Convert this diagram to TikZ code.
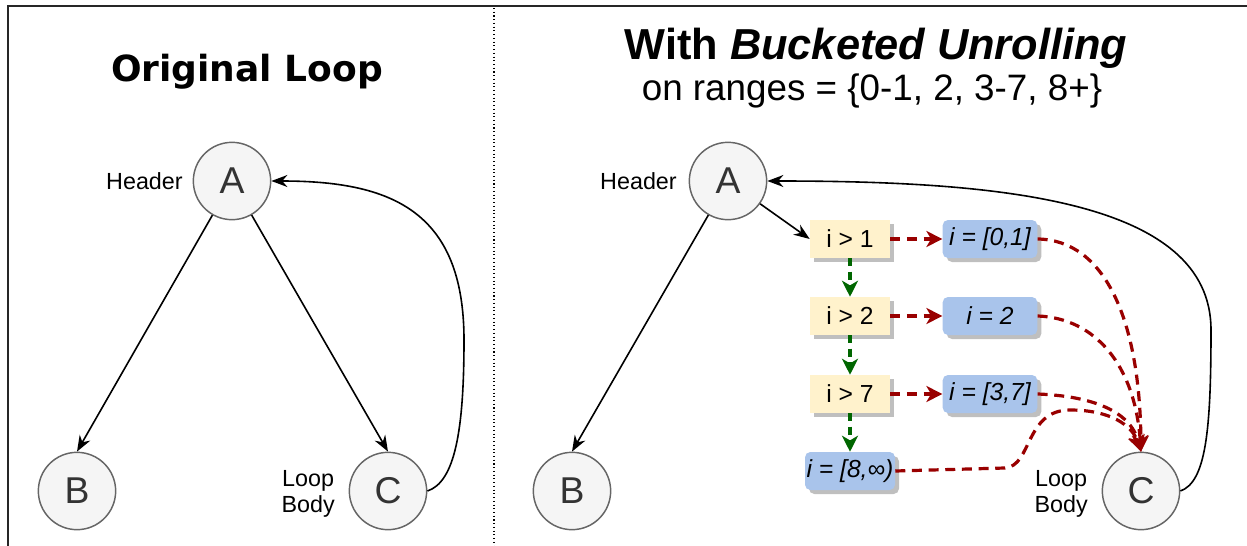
\documentclass[tikz,border=0pt]{standalone}
\usepackage{fontspec}
\setmainfont{Liberation Sans}
\newfontfamily\dejavu{DejaVu Sans}
\usepackage{tikz}
\usetikzlibrary{arrows.meta}
\usetikzlibrary{shadows}

\definecolor{nodefill}{HTML}{F5F5F5}
\definecolor{nodeline}{HTML}{666666}
\definecolor{nodetext}{HTML}{333333}
\definecolor{guardfill}{HTML}{FFF2CC}
\definecolor{bucketfill}{HTML}{A9C4EB}
\definecolor{takenred}{HTML}{990000}
\definecolor{fallgreen}{HTML}{006600}

\begin{document}
\begin{tikzpicture}[x=0.75pt,y=-0.75pt,
  vertex/.style={circle,draw=nodeline,fill=nodefill,line width=1.1pt,
    minimum size=58pt,inner sep=0pt,text=nodetext,
    font=\fontsize{28}{30}\selectfont},
  lbl/.style={inner sep=0pt,align=center,font=\fontsize{17.5}{20}\selectfont},
  guard/.style={rectangle,fill=guardfill,minimum width=60pt,minimum height=28.5pt,
    inner sep=0pt,font=\fontsize{18.5}{20}\selectfont,
    drop shadow={shadow xshift=3pt,shadow yshift=-3pt,fill=black!25,opacity=1}},
  bucket/.style={rectangle,rounded corners=4pt,fill=bucketfill,minimum width=71pt,
    minimum height=28.5pt,inner sep=0pt,font=\fontsize{18.5}{20}\selectfont\itshape,
    drop shadow={shadow xshift=3pt,shadow yshift=-3pt,fill=black!25,opacity=1}},
  edge/.style={line width=1.2pt,-{Stealth[length=12pt,width=9pt]}},
  taken/.style={draw=takenred,line width=2.4pt,dash pattern=on 7.5pt off 5pt,
    -{Stealth[length=12pt,width=12pt,inset=3.5pt]}},
  fall/.style={draw=fallgreen,line width=2.4pt,dash pattern=on 6pt off 4pt,
    -{Stealth[length=12pt,width=12pt,inset=3.5pt]}}]
  \useasboundingbox (0,0) rectangle (1247,546);
  % frame and divider
  \draw[line width=1.6pt,draw=black!85]
    (8,546)
    --
    (8,6)
    --
    (1247,6);
  \draw[dotted,line width=0.8pt]
    (494,8)
    --
    (494,546);
  % original loop
  \node [font=\dejavu\bfseries\fontsize{27}{30}\selectfont] (t1) at (247,72) {Original Loop};
  \node [vertex] (A1) at (232,181) {A};
  \node [vertex] (B1) at (77,491) {B};
  \node [vertex] (C1) at (388,491) {C};
  \node [lbl,anchor=east] (h1) at (183,181) {Header};
  \node [lbl,anchor=east] (l1) at (335,494) {Loop\\Body};
  \draw[edge]
    (A1)
    --
    (B1.north);
  \draw[edge]
    (A1)
    --
    (C1.north);
  \draw[edge]
    (C1.east)
    .. controls (455,482) and (464,430) .. (464,340)
    .. controls (464,210) and (390,181) .. (A1.east);
  % bucketed unrolling
  \node [font=\bfseries\fontsize{32.5}{34}\selectfont] (t2) at (876,48) {With \textit{Bucketed Unrolling}};
  \node [font=\fontsize{27.6}{30}\selectfont] (t3) at (872,91) {on ranges = \{0-1, 2, 3-7, 8+\}};
  \node [vertex] (A2) at (728,181) {A};
  \node [vertex] (B2) at (572,491) {B};
  \node [vertex] (C2) at (1141,491) {C};
  \node [lbl,anchor=east] (h2) at (677,181) {Header};
  \node [lbl,anchor=east] (l2) at (1088,494) {Loop\\Body};
  \node [guard] (g1) at (850,239) {i > 1};
  \node [guard] (g2) at (850,316) {i > 2};
  \node [guard] (g3) at (850,394) {i > 7};
  \node [bucket] (b1) at (990,239) {i = [0,1]};
  \node [bucket] (b2) at (990,316) {i = 2};
  \node [bucket] (b3) at (990,394) {i = [3,7]};
  \node [bucket,minimum width=67.5pt] (b4) at (850,471) {i = [8,∞)};
  \draw[edge]
    (A2)
    --
    (B2.north);
  \draw[edge]
    (A2)
    --
    (g1.west);
  \draw[fall] (g1) -- (g2);
  \draw[fall] (g2) -- (g3);
  \draw[fall] (g3) -- (b4);
  \draw[taken] (g1) -- (b1);
  \draw[taken] (g2) -- (b2);
  \draw[taken] (g3) -- (b3);
  \draw[taken]
    (b1.east)
    .. controls (1105,240) and (1140,320) .. (C2.north);
  \draw[taken]
    (b2.east)
    .. controls (1095,318) and (1135,365) .. (C2.north);
  \draw[taken]
    (b3.east)
    .. controls (1090,396) and (1130,410) .. (C2.north);
  \draw[taken]
    (b4.east)
    -- (1005,468)
    .. controls (1032,466) and (1025,410) .. (1070,410)
    .. controls (1110,410) and (1132,425) .. (C2.north);
  \draw[edge]
    (C2.east)
    .. controls (1206,482) and (1211,430) .. (1211,330)
    .. controls (1211,200) and (1000,181) .. (A2.east);
\end{tikzpicture}
\end{document}
